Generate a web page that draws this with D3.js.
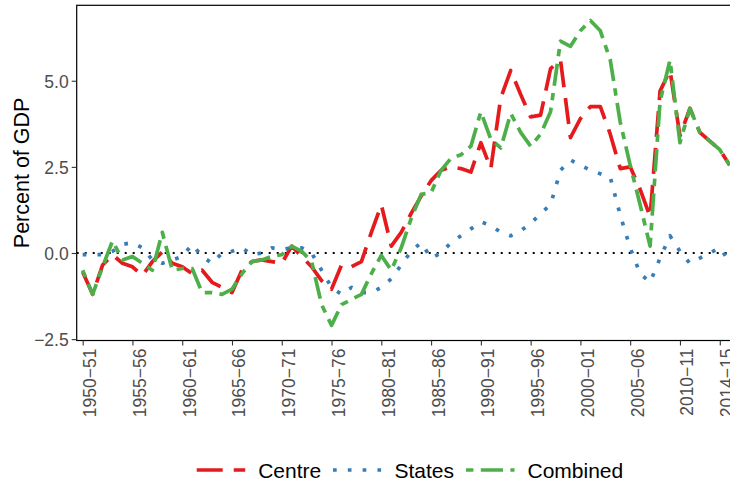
<!DOCTYPE html>
<html>
<head>
<meta charset="utf-8">
<script src="https://cdn.jsdelivr.net/npm/d3@7"></script>
<style>
  body { margin: 0; background: #ffffff; }
  svg { display: block; font-family: "Liberation Sans", Arial, sans-serif; }
</style>
</head>
<body>
<div id="GraphHolder"></div>
<script>
// fiscal years, 1950-51 .. 2015-16
var years = ["1950-51","1951-52","1952-53","1953-54","1954-55","1955-56","1956-57","1957-58","1958-59","1959-60",
  "1960-61","1961-62","1962-63","1963-64","1964-65","1965-66","1966-67","1967-68","1968-69","1969-70",
  "1970-71","1971-72","1972-73","1973-74","1974-75","1975-76","1976-77","1977-78","1978-79","1979-80",
  "1980-81","1981-82","1982-83","1983-84","1984-85","1985-86","1986-87","1987-88","1988-89","1989-90",
  "1990-91","1991-92","1992-93","1993-94","1994-95","1995-96","1996-97","1997-98","1998-99","1999-00",
  "2000-01","2001-02","2002-03","2003-04","2004-05","2005-06","2006-07","2007-08","2008-09","2009-10",
  "2010-11","2011-12","2012-13","2013-14","2014-15","2015-16"];

var centre = [-0.55,-1.2,-0.35,-0.05,-0.3,-0.4,-0.65,-0.25,0.03,-0.3,
  -0.4,-0.6,-0.5,-0.85,-1.0,-1.15,-0.5,-0.25,-0.2,-0.25,
  -0.3,0.2,-0.1,-0.4,-0.8,-1.05,-0.35,-0.4,-0.25,0.6,
  1.4,0.2,0.6,1.15,1.65,2.1,2.4,2.5,2.45,2.35,
  3.2,2.45,4.5,5.3,4.6,3.95,4.0,5.35,5.6,3.35,
  3.9,4.25,4.25,3.45,2.45,2.5,1.85,1.05,4.7,5.3,
  3.4,4.2,3.5,3.25,3.0,2.55];

var states = [-0.05,-0.05,-0.05,0.05,0.25,0.3,0.15,-0.2,-0.3,-0.2,
  -0.1,0.25,-0.1,-0.3,0.0,0.05,0.15,-0.05,0.0,0.15,
  0.1,0.15,0.15,0.0,-0.5,-1.0,-1.2,-1.0,-1.15,-1.15,
  -1.0,-0.75,-0.35,0.05,0.3,-0.15,0.0,0.3,0.5,0.7,
  0.9,0.8,0.6,0.5,0.65,0.85,1.15,1.4,2.4,2.7,
  2.55,2.4,2.3,2.2,1.1,0.15,-0.6,-0.85,-0.15,0.5,
  0.05,-0.3,-0.15,0.0,0.15,-0.25];

var combined = [-0.5,-1.2,-0.4,0.35,-0.2,-0.1,-0.3,-0.5,0.6,-0.5,
  -0.45,-0.45,-1.15,-1.15,-1.2,-1.05,-0.6,-0.25,-0.2,-0.1,
  -0.05,0.2,0.05,-0.25,-1.5,-2.1,-1.5,-1.35,-1.2,-0.6,
  -0.07,-0.5,0.15,1.0,1.7,1.75,2.4,2.75,2.85,3.1,
  4.1,3.3,3.05,4.05,3.5,3.1,3.45,4.1,6.15,6.0,
  6.45,6.75,6.45,5.6,3.8,2.55,1.4,0.2,4.4,5.6,
  3.2,4.2,3.5,3.25,3.0,2.55];

var xTickLabels = ["1950-51","1955-56","1960-61","1965-66","1970-71","1975-76","1980-81",
  "1985-86","1990-91","1995-96","2000-01","2005-06","2010-11","2014-15"];
var yTicks = [-2.5, 0, 2.5, 5];

var seriesNames = ["Centre", "States", "Combined"];
var seriesColors = ["#E41A1C", "#377EB8", "#4DAF4A"];
var seriesDash = ["26,11", "3.7,11.1", "7.4,7.4,22.2,7.4"];

// set the dimensions and margins of the graph
var margin = {top: 5.3, left: 76.7},
    width = 659,
    height = 335.2;

var svg = d3.select("#GraphHolder").append("svg")
    .attr("width", 730)
    .attr("height", 487);

var g = svg.append("g")
    .attr("transform", "translate(" + margin.left + "," + margin.top + ")");

// discrete x like ggplot (0.6 step padding), continuous y
var x = d3.scalePoint().domain(years).range([0, width]).padding(0.6);
var y = d3.scaleLinear().domain([-2.54, 7.19]).range([height, 0]);

var minus = function(s) { return s.replace(/-/g, "\u2212"); };

// zero reference line
g.append("line")
    .attr("x1", 0).attr("x2", width)
    .attr("y1", y(0)).attr("y2", y(0))
    .style("stroke", "#000")
    .style("stroke-width", 2)
    .style("stroke-dasharray", "2,6");

// series lines
var line = d3.line()
    .x(function(d, i) { return x(years[i]); })
    .y(function(d) { return y(d); });

[centre, states, combined].forEach(function(vals, k) {
    g.append("path")
        .datum(vals)
        .attr("d", line)
        .style("fill", "none")
        .style("stroke", seriesColors[k])
        .style("stroke-width", 3.7)
        .style("stroke-linejoin", "round")
        .style("stroke-dasharray", seriesDash[k]);
});

// panel border
g.append("rect")
    .attr("width", width).attr("height", height)
    .style("fill", "none")
    .style("stroke", "#000")
    .style("stroke-width", 1.2);

// y axis
var yAxis = d3.axisLeft(y)
    .tickValues(yTicks)
    .tickSize(5)
    .tickPadding(3)
    .tickFormat(function(d) { return minus(d3.format(".1f")(d)); });
var ya = g.append("g").call(yAxis);
ya.select(".domain").remove();
ya.selectAll("line").style("stroke", "#333").style("stroke-width", 1.1);
ya.selectAll("text")
    .style("font-size", "17.5px")
    .style("fill", "#4d4d4d")
    .attr("dy", "0.36em");

// x axis
var xAxis = d3.axisBottom(x)
    .tickValues(xTickLabels)
    .tickSize(5)
    .tickFormat(minus);
var xa = g.append("g")
    .attr("transform", "translate(0," + height + ")")
    .call(xAxis);
xa.select(".domain").remove();
xa.selectAll("line").style("stroke", "#333").style("stroke-width", 1.1);
xa.selectAll("text")
    .attr("y", 0)
    .attr("dy", 0)
    .attr("transform", "translate(13,8) rotate(-90)")
    .style("text-anchor", "end")
    .style("font-size", "17.5px")
    .style("fill", "#4d4d4d");

// y axis title
svg.append("text")
    .attr("transform", "translate(28.5," + (margin.top + height / 2) + ") rotate(-90)")
    .style("text-anchor", "middle")
    .style("font-size", "21.5px")
    .style("fill", "#000")
    .text("Percent of GDP");

// legend
var legendKeys = [196.7, 333, 466];
var legend = svg.append("g").attr("transform", "translate(0,470)");
seriesNames.forEach(function(name, k) {
    legend.append("line")
        .attr("x1", legendKeys[k]).attr("x2", legendKeys[k] + 48.5)
        .attr("y1", 0).attr("y2", 0)
        .style("stroke", seriesColors[k])
        .style("stroke-width", 3.7)
        .style("stroke-dasharray", seriesDash[k]);
    legend.append("text")
        .attr("x", legendKeys[k] + 61.5)
        .attr("y", 8)
        .style("font-size", "21px")
        .style("fill", "#000")
        .text(name);
});
</script>
</body>
</html>
